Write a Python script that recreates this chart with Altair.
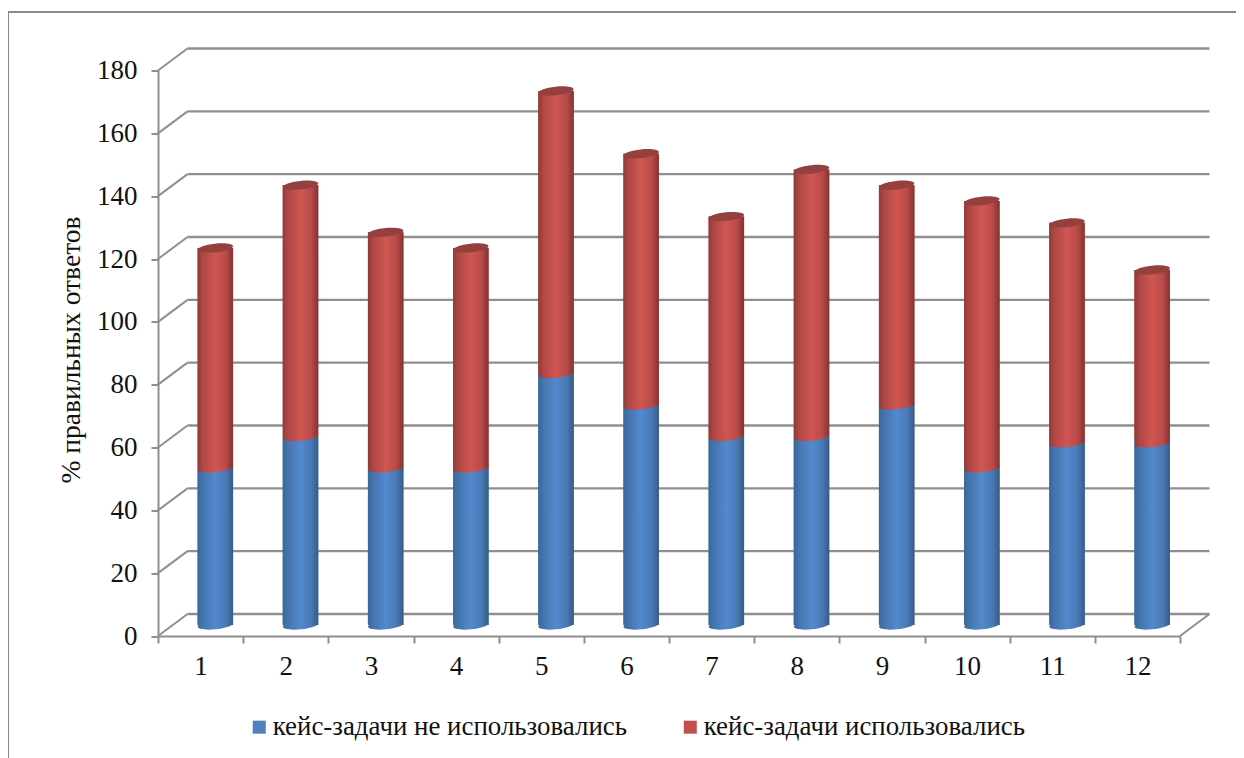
import altair as alt
import pandas as pd

# ---- data ----
questions = [1, 2, 3, 4, 5, 6, 7, 8, 9, 10, 11, 12]
without_cases = [50, 60, 50, 50, 80, 70, 60, 60, 70, 50, 58, 58]
with_cases = [70, 80, 75, 70, 90, 80, 70, 85, 70, 85, 70, 55]
series_names = ["кейс-задачи не использовались", "кейс-задачи использовались"]
y_ticks = [0, 20, 40, 60, 80, 100, 120, 140, 160, 180]
axis_title = "% правильных ответов"

FONT = "Liberation Serif"
GRID = "#8f8f8f"
W, H = 1022, 565.5
X_DOMAIN = [0.5, 12.5]
BAR_W = 35.5
# depth of the pseudo-3D box, in pixels
DX_BACK, DY_BACK = 29.5, -22
DX_MID, DY_MID = 14.75, -11
TILT = 354
ELLIPSE = "M-1,0A1,0.24 0 1,1 1,0A1,0.24 0 1,1 -1,0Z"

rows = pd.DataFrame({
    "q": questions,
    "a0": [0] * 12,
    "a1": without_cases,
    "b1": [a + b for a, b in zip(without_cases, with_cases)],
})
long_rows = pd.concat([
    pd.DataFrame({"q": questions, "s": series_names[0], "lo": rows.a0, "hi": rows.a1}),
    pd.DataFrame({"q": questions, "s": series_names[1], "lo": rows.a1, "hi": rows.b1}),
])
ticks = pd.DataFrame({"v": y_ticks, "x0": X_DOMAIN[0], "x1": X_DOMAIN[1]})


def grad(stops):
    return alt.LinearGradient(
        gradient="linear", x1=0, x2=1, y1=0, y2=0,
        stops=[alt.GradientStop(offset=o, color=c) for o, c in stops],
    )


BLUE = grad([(0, "#386797"), (0.14, "#4474ad"), (0.5, "#5389ce"), (0.8, "#4979b5"), (1, "#365c86")])
RED = grad([(0, "#8e3a38"), (0.14, "#ae4745"), (0.5, "#d05652"), (0.8, "#b84b48"), (1, "#823331")])

xs = alt.Scale(domain=X_DOMAIN, nice=False, zero=False, padding=0)
ys = alt.Scale(domain=[0, 180], nice=False, padding=0)
x_labels_axis = alt.Axis(
    orient="bottom", values=questions, title=None, ticks=False, domain=False, grid=False,
    labelFont=FONT, labelFontSize=27, labelColor="#111111", labelPadding=17, labelFlush=False,
    format="d",
)
x_ticks_axis = alt.Axis(
    orient="bottom", values=[q - 0.5 for q in questions] + [12.5], title=None, labels=False,
    tickColor=GRID, tickWidth=2, tickSize=7, domainColor=GRID, domainWidth=2, grid=False,
)
y_axis = alt.Axis(
    values=y_ticks, title=axis_title, titleFont=FONT, titleFontSize=27.5, titleFontWeight="normal",
    titleColor="#111111", titleX=-73, titleY=279, labelFont=FONT, labelFontSize=27,
    labelColor="#111111", labelPadding=14, tickColor=GRID, tickWidth=2, tickSize=7,
    domainColor=GRID, domainWidth=2, grid=False,
)

X = alt.X("q:Q", scale=xs, axis=x_labels_axis)
X_TICK = alt.X("x0:Q", scale=xs, axis=x_ticks_axis)
X_PLAIN = alt.X("x0:Q", scale=xs, axis=None)
Y_TICK = alt.Y("v:Q", scale=ys, axis=y_axis)

# frame of the chart (left and top edges only)
frame_left = alt.Chart(ticks.head(1)).mark_rule(color="#8a8a8a", strokeWidth=2).encode(
    x=alt.value(-150), y=alt.value(-58.5), y2=alt.value(700))
frame_top = alt.Chart(ticks.head(1)).mark_rule(color="#8a8a8a", strokeWidth=2).encode(
    x=alt.value(-150), x2=alt.value(1100), y=alt.value(-58.5))

# back wall lines and the diagonals that join them to the front axis
back = alt.Chart(ticks).mark_rule(
    color=GRID, strokeWidth=2.4, xOffset=DX_BACK, x2Offset=DX_BACK, yOffset=DY_BACK,
).encode(x=X_TICK, x2="x1:Q", y=Y_TICK)
diag = alt.Chart(ticks).mark_rule(
    color=GRID, strokeWidth=2, x2Offset=DX_BACK, y2Offset=DY_BACK,
).encode(x=X_PLAIN, x2="x0:Q", y=Y_TICK, y2="v:Q")
diag_right = alt.Chart(ticks.head(1)).mark_rule(
    color=GRID, strokeWidth=2, x2Offset=DX_BACK, y2Offset=DY_BACK,
).encode(x=alt.X("x1:Q", scale=xs, axis=None), x2="x1:Q", y=Y_TICK, y2="v:Q")

# flat bars that carry the legend
legend_bars = alt.Chart(long_rows).mark_bar(
    size=BAR_W, xOffset=DX_MID, yOffset=DY_MID, y2Offset=DY_MID,
).encode(
    x=X,
    y=alt.Y("lo:Q", scale=ys, axis=y_axis),
    y2="hi:Q",
    color=alt.Color(
        "s:N",
        scale=alt.Scale(domain=series_names, range=["#4f81bd", "#c0504d"]),
        legend=alt.Legend(
            title=None, orient="none", legendX=87.8, legendY=642.9, direction="horizontal",
            columns=2, symbolType="square", symbolSize=170, symbolStrokeWidth=0,
            labelFont=FONT, labelFontSize=26.9, labelColor="#111111", labelLimit=500,
            columnPadding=49, labelOffset=0,
        ),
    ),
)


def cylinder(frame, fill):
    return alt.Chart(frame).mark_bar(
        size=BAR_W, color=fill, xOffset=DX_MID, yOffset=DY_MID, y2Offset=DY_MID,
    ).encode(x=alt.X("q:Q", scale=xs, axis=None), y=alt.Y("lo:Q", scale=ys, axis=y_axis), y2="hi:Q")


def cap(frame, field, fill):
    return alt.Chart(frame).mark_point(
        shape=ELLIPSE, size=BAR_W ** 2, filled=True, color=fill, opacity=1, angle=TILT,
        xOffset=DX_MID, yOffset=DY_MID, strokeWidth=0,
    ).encode(x=alt.X("q:Q", scale=xs, axis=None), y=alt.Y(f"{field}:Q", scale=ys, axis=y_axis))


blue_rows = long_rows[long_rows.s == series_names[0]]
red_rows = long_rows[long_rows.s == series_names[1]]

chart = alt.layer(
    frame_left, frame_top, back, diag, diag_right, legend_bars,
    cap(blue_rows, "lo", BLUE), cylinder(blue_rows, BLUE),
    cylinder(red_rows, RED), cap(red_rows, "lo", RED), cap(red_rows, "hi", "#94403e"),
).resolve_axis(x="independent").properties(
    width=W, height=H,
    padding={"left": 150, "top": 62.5, "right": 56, "bottom": 122},
    autosize=alt.AutoSizeParams(type="none"),
    background="#ffffff",
).configure_view(stroke=None)

chart.save("out.html", embed_options={"renderer": "svg", "actions": False})
